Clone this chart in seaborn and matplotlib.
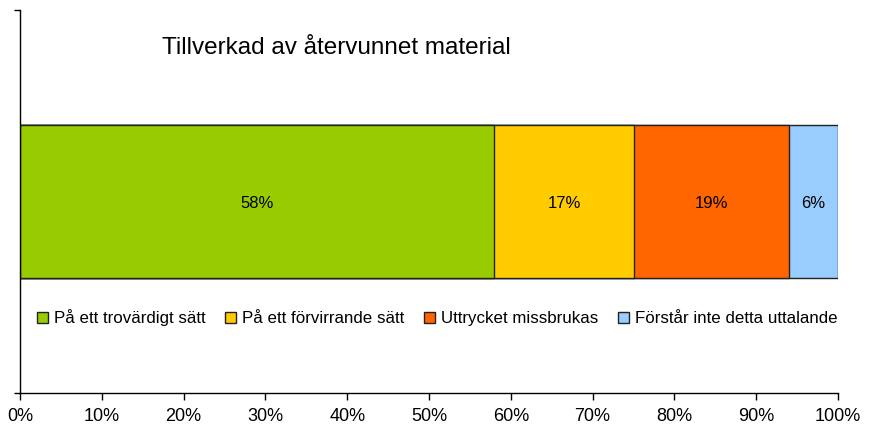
# Stacked horizontal bar: Tillverkad av återvunnet material
import matplotlib
matplotlib.use('Agg')
import matplotlib.pyplot as plt
import numpy as np
import pandas as pd
import seaborn as sns
from matplotlib.patches import Patch

categories = ['På ett trovärdigt sätt', 'På ett förvirrande sätt', 'Uttrycket missbrukas', 'Förstår inte detta uttalande']
values = [58, 17, 19, 6]
colors = ['#99CC00', '#FFCC00', '#FF6600', '#99CCFF']
xticks = list(range(0, 101, 10))

sns.set_theme(style='white')
plt.rcParams['font.family'] = ['Liberation Sans', 'DejaVu Sans']
plt.rcParams['text.color'] = 'black'
plt.rcParams['xtick.color'] = 'black'
plt.rcParams['ytick.color'] = 'black'

fig = plt.figure(figsize=(8.69, 4.30), dpi=100)
ax = fig.add_axes([20 / 869, 37 / 430, 818 / 869, 383 / 430])

# cumulative totals, drawn back to front so the stack shows
cum = np.cumsum(values)
df = pd.DataFrame({'rad': ['x'] * len(values), 'cum': cum})
for i in range(len(values) - 1, -1, -1):
    sns.barplot(data=df.iloc[[i]], x='cum', y='rad', color=colors[i], saturation=1,
                width=0.4, edgecolor='#222222', linewidth=1, ax=ax)

starts = cum - np.array(values)
for s, v in zip(starts, values):
    ax.text(s + v / 2, 0.005, f'{v}%', ha='center', va='center', fontsize=12, color='black')

ax.set_xlim(0, 100)
ax.set_ylim(0.5, -0.5)
ax.set_xticks(xticks)
ax.set_xticklabels([f'{t}%' for t in xticks], fontsize=13)
ax.set_yticks([-0.5, 0.5])
ax.set_yticklabels([])
ax.set_xlabel('')
ax.set_ylabel('')
ax.tick_params(axis='x', bottom=True, direction='out', length=5, width=1, color='black', pad=6)
ax.tick_params(axis='y', left=True, direction='out', length=4, width=1, color='black')
for side in ['top', 'right']:
    ax.spines[side].set_visible(False)
for side in ['left', 'bottom']:
    ax.spines[side].set_color('black')
    ax.spines[side].set_linewidth(1)

ax.text(0.174, 0.9, 'Tillverkad av återvunnet material', transform=ax.transAxes,
        fontsize=17.5, ha='left', va='center', color='black')

handles = [Patch(facecolor=c, edgecolor='#222222', linewidth=1) for c in colors]
ax.legend(handles, categories, loc='center', bbox_to_anchor=(0.51, 0.196), ncol=4,
          frameon=False, fontsize=12.2, handlelength=0.65, handleheight=0.65,
          handletextpad=0.35, columnspacing=1.15, labelcolor='black')

fig.savefig('out.png', dpi=100)
